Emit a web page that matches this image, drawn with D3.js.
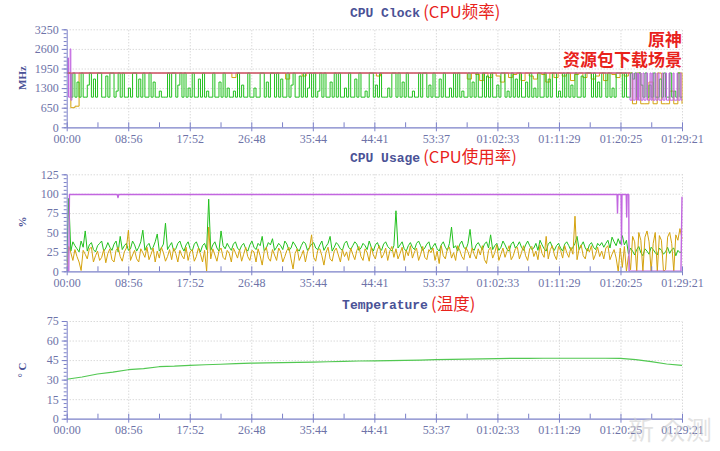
<!DOCTYPE html>
<html><head><meta charset="utf-8">
<script src="https://cdn.jsdelivr.net/npm/d3@7/dist/d3.min.js"></script>
<style>body{margin:0;background:#fff}svg{display:block}</style>
</head><body><svg id="c" width="720" height="451"></svg>
<script>
const DURATION = 5361; // seconds (01:29:21)
const tickLabels = ["00:00","08:56","17:52","26:48","35:44","44:41","53:37","01:02:33","01:11:29","01:20:25","01:29:21"];
const clockTicks = [0,650,1300,1950,2600,3250];
const usageTicks = [0,25,50,75,100,125];
const tempTicks = [0,15,30,45,60,75];

// CPU clock (MHz), green cores, 300 evenly spaced samples
const clockGreen = [
1800,1800,1000,1800,1000,1500,1000,1800,1000,1000,1400,1800,1000,1600,1000,1800,1800,1000,1000,1700,
1000,1800,1800,1000,1200,1800,1000,1800,1000,1000,1300,1000,1800,1800,1000,1600,1000,1800,1000,1000,
1800,1000,1500,1000,1000,1200,1000,1000,1000,1800,1000,1800,1800,1000,1400,1800,1000,1800,1000,1300,
1000,1800,1000,1000,1600,1000,1800,1000,1200,1000,1000,1800,1000,1000,1500,1000,1800,1000,1300,1000,
1000,1200,1000,1800,1000,1400,1000,1000,1800,1000,1000,1300,1000,1000,1800,1800,1000,1500,1000,1800,
1800,1000,1800,1000,1600,1000,1000,1800,1000,1400,1800,1000,1000,1700,1000,1800,1000,1300,1800,1000,
1800,1000,1200,1800,1000,1800,1000,1000,1500,1000,1800,1000,1800,1000,1000,1300,1000,1800,1000,1000,
1600,1000,1800,1000,1000,1200,1000,1800,1800,1000,1400,1000,1800,1000,1000,1000,1300,1000,1800,1800,
1000,1800,1000,1500,1000,1800,1000,1000,1200,1000,1000,1800,1000,1800,1800,1000,1400,1000,1800,1000,
1000,1600,1000,1800,1000,1000,1300,1000,1800,1000,1800,1000,1200,1000,1000,1800,1000,1500,1000,1800,
1000,1000,1800,1000,1700,1000,1800,1000,1000,1400,1000,1800,1800,1000,1200,1000,1800,1000,1600,1000,
1800,1000,1000,1500,1000,1800,1000,1300,1000,1800,1000,1000,1800,1000,1600,1000,1800,1800,1000,1200,
1000,1800,1000,1800,1000,1400,1000,1800,1000,1000,1700,1000,1800,1800,1800,1000,1800,1000,1500,1000,
1800,1800,1000,1800,1000,1300,1000,1800,1800,1800,1000,1800,1000,1000,1800,1600,1800,1000,1800,1400,
1000,1800,1000,1400,1000,1800,1000,1000,1600,1000,1800,1000,1000,1800,1000,1200,1000,1800,1000,1000];

// CPU clock, orange cores, 150 evenly spaced samples
const clockOrange = [
1800,650,700,1800,1800,1800,1800,1800,1800,1800,1800,1800,1800,1800,1800,1800,1800,1800,1800,1800,
1800,1800,1800,1800,1800,1800,1800,1800,1800,1800,1800,1800,1800,1800,1800,1800,1800,1800,1800,1800,
1650,1800,1800,1800,1800,1800,1800,1800,1800,1800,1800,1800,1800,1600,1800,1800,1800,1700,1800,1800,
1800,1800,1800,1800,1800,1800,1800,1800,1800,1800,1800,1800,1800,1800,1800,1700,1800,1800,1800,1800,
1800,1800,1800,1800,1800,1800,1800,1800,1800,1800,1800,1800,1800,1800,1800,1800,1800,1600,1800,1750,
1550,1800,1650,1800,1700,1500,1800,1650,1750,1800,1550,1800,1700,1600,1800,1750,1500,1800,1650,1800,
1700,1800,1550,1750,1800,1650,1800,1600,1700,1800,1550,1800,1750,1650,1800,1700,1800,780,1800,780,
780,1500,780,1800,780,780,1200,780,1800,780];

// CPU clock, purple cores: time (s) / value pairs
const clockPurpleT = [0,10,16,30,36,45,4908,4926,4935,4952,4961,4973,4982,4995,5004,5021,5030,5048,5061,5082,5091,5100,5108,5126,5134,5152,5161,5187,5196,5213,5226,5248,5257,5283,5292,5318,5326,5344,5353,5361];
const clockPurpleV = [1800,2300,1000,2600,900,1800,900,1800,900,1800,900,1800,900,1800,900,1800,900,1800,900,1800,900,1800,900,1800,900,1800,900,1800,900,1800,900,1800,900,1800,900,1800,900,1800,900,900];

// CPU clock, red (max) line
const clockRedT = [0,4910];
const clockRedV = [1800,1800];

// CPU usage (%), green, 300 samples
const usageGreen = [
12,94,26,38,33,29,25,39,31,52,26,34,37,28,25,33,36,39,26,30,
37,31,27,35,39,25,45,28,33,36,27,29,39,34,26,31,38,53,27,33,
36,28,31,38,48,26,30,35,62,28,33,37,26,29,36,39,31,26,34,38,
29,26,35,38,31,25,33,36,28,93,27,34,38,30,26,52,33,29,36,31,
27,35,38,30,27,33,36,29,26,34,39,31,28,36,33,45,26,30,37,34,
42,27,31,36,33,28,39,35,27,30,38,34,29,26,33,38,36,27,31,35,
37,30,28,34,39,27,32,36,45,26,31,37,34,29,27,36,39,31,28,33,
38,35,27,30,36,33,28,39,31,26,34,37,30,27,35,38,32,29,26,33,
78,30,34,38,29,26,33,37,31,28,36,39,33,27,30,35,38,28,32,36,
29,26,34,38,31,27,36,57,30,33,26,35,39,31,28,36,54,30,27,34,
37,32,28,35,38,30,47,28,33,36,27,31,39,34,28,26,35,38,30,33,
38,31,27,34,39,33,28,30,36,27,40,34,29,26,35,38,31,27,33,36,
30,26,35,38,33,27,31,36,45,28,33,38,30,26,34,37,31,28,36,33,
37,31,36,40,30,44,38,33,42,35,46,34,40,22,30,26,21,28,32,24,
20,29,26,22,31,28,24,21,30,27,22,25,31,23,28,30,20,27,24,26];

// CPU usage (%), orange, 300 samples
const usageOrange = [
0,32,24,14,28,19,12,1,27,22,16,29,31,12,20,26,14,18,28,11,
23,29,15,12,27,31,19,13,25,30,53,14,21,27,16,12,29,24,18,31,
15,22,30,12,26,17,31,24,13,19,28,15,30,23,12,27,20,16,31,14,
25,28,13,19,30,22,12,27,0,57,16,29,21,13,26,30,18,15,27,23,
12,30,24,17,28,13,22,31,19,14,27,25,12,29,20,8,26,31,17,13,
28,21,14,30,25,12,19,27,31,16,3,23,29,14,20,27,12,25,30,47,
18,13,27,29,20,8,24,31,16,13,26,30,21,12,28,19,25,14,30,22,
15,27,32,19,14,29,24,13,31,21,16,28,33,17,22,30,14,26,32,18,
29,16,23,31,14,27,20,33,17,25,30,14,22,32,18,15,28,24,30,14,
26,10,33,20,16,29,31,17,24,14,33,27,19,15,31,25,17,30,22,16,
29,21,33,15,10,27,31,17,24,34,14,22,30,18,26,33,15,20,29,31,
16,24,33,20,14,29,32,19,26,15,34,23,18,45,16,28,33,21,15,32,
27,17,33,24,18,31,22,71,15,29,34,20,16,30,25,33,15,22,31,19,
26,16,30,33,15,22,28,17,0,30,5,32,0,20,2,45,38,0,50,40,
0,44,52,38,0,36,50,0,46,40,0,2,44,50,36,0,47,40,55,42];

// CPU usage (%), purple: time (s) / value pairs
const usagePurpleT = [0,18,24,300,440,447,454,900,1500,2100,2700,3300,3900,4500,4795,4799,4803,4830,4834,4838,4875,4879,4883,4897,4900,5346,5352,5361];
const usagePurpleV = [0,0,99,99,99,95,99,99,99,99,99,99,99,99,99,75,99,99,34,99,99,70,99,99,0,0,0,96];

// Temperature (°C), 41 evenly spaced samples
const tempGreen = [30.3,32.0,34.3,35.8,37.6,38.5,39.9,40.3,41.0,41.4,41.8,42.3,42.6,42.8,43.0,43.3,43.5,43.7,44.0,44.3,
44.4,44.6,44.8,45.0,45.3,45.5,45.7,45.9,46.1,46.3,46.3,46.4,46.4,46.4,46.4,46.4,46.3,45.3,43.8,42.0,41.0];

const C = {green:"#22c01e", orange:"#d4a20e", purple:"#c266e0", red:"#d65454", temp:"#52c852",
  axis:"#7b80c8", tick:"#6e73a8", title:"#4a5296", red2:"#e8221b", grid:"#c9c9c9"};

const svg = d3.select("#c");
const X0 = 66.7, X1 = 682;
const x = d3.scaleLinear().domain([0, DURATION]).range([X0, X1]);
const majorT = tickLabels.map((_, i) => i * DURATION / (tickLabels.length - 1));
const minorT = d3.range(0, 2 * (tickLabels.length - 1) + 1).map(i => i * DURATION / (2 * (tickLabels.length - 1)));

function even(arr){ return arr.map((v,i)=>[i*DURATION/(arr.length-1), v]); }
function pairs(T,V){ return T.map((t,i)=>[t,V[i]]); }

function panel(cfg){
  const y = d3.scaleLinear().domain([0, cfg.ticks[cfg.ticks.length-1]]).range([cfg.yBot, cfg.yTop]);
  const g = svg.append("g");
  const step = cfg.ticks[1]-cfg.ticks[0];
  // grid
  const gx = g.append("g").attr("transform",`translate(0,${cfg.yBot})`)
    .call(d3.axisBottom(x).tickValues(majorT.slice(1)).tickSize(-(cfg.yBot-cfg.yTop)).tickFormat(""));
  gx.select(".domain").remove();
  gx.selectAll("line").attr("stroke",C.grid).attr("stroke-dasharray","1,2");
  const gy = g.append("g").attr("transform",`translate(${X0},0)`)
    .call(d3.axisLeft(y).tickValues(cfg.ticks.slice(1)).tickSize(-(X1-X0)).tickFormat(""));
  gy.select(".domain").remove();
  gy.selectAll("line").attr("stroke",C.grid).attr("stroke-dasharray","1,2");

  // series
  const clip = "clip"+cfg.id;
  svg.append("clipPath").attr("id",clip).append("rect").attr("x",X0).attr("y",cfg.yTop-6).attr("width",X1-X0+1).attr("height",cfg.yBot-cfg.yTop+6);
  const sg = g.append("g").attr("clip-path",`url(#${clip})`);
  cfg.series.forEach(s=>{
    const line = d3.line().x(d=>x(d[0])).y(d=>y(d[1])).curve(s.curve||d3.curveLinear);
    sg.append("path").datum(s.data).attr("d",line).attr("fill","none")
      .attr("stroke",s.color).attr("stroke-width",s.w||1).attr("stroke-linejoin","round");
  });

  // y axis: minor ticks
  const minorY = d3.range(0, cfg.ticks.length*5-4).map(i=>i*step/5);
  const ym = g.append("g").attr("transform",`translate(${X0},0)`)
    .call(d3.axisLeft(y).tickValues(minorY).tickSize(3).tickFormat(""));
  ym.select(".domain").remove();
  ym.selectAll("line").attr("stroke",C.axis);
  const ya = g.append("g").attr("transform",`translate(${X0},0)`)
    .call(d3.axisLeft(y).tickValues(cfg.ticks).tickSize(5).tickPadding(3).tickSizeOuter(0).tickFormat(d3.format("d")));
  ya.select(".domain").attr("stroke",C.axis);
  ya.selectAll("line").attr("stroke",C.axis);
  ya.selectAll("text").attr("fill",C.tick).attr("font-family","'Liberation Serif',serif").attr("font-size","12px");

  // x axis
  const xm = g.append("g").attr("transform",`translate(0,${cfg.yBot})`)
    .call(d3.axisBottom(x).tickValues(minorT).tickSize(-5).tickFormat(""));
  xm.select(".domain").remove();
  xm.selectAll("line").attr("stroke",C.axis);
  const xa = g.append("g").attr("transform",`translate(0,${cfg.yBot})`)
    .call(d3.axisBottom(x).tickValues(majorT).tickSize(4).tickPadding(3).tickSizeOuter(0).tickFormat((d,i)=>tickLabels[i]));
  xa.select(".domain").attr("stroke",C.axis).attr("stroke-width",1.3);
  xa.selectAll("line").attr("stroke",C.axis);
  xa.selectAll("text").attr("fill",C.tick).attr("font-family","'Liberation Serif',serif").attr("font-size","12px");

  // y label
  svg.append("text").attr("transform",`translate(26,${cfg.labelY}) rotate(-90)`)
    .attr("text-anchor","middle").attr("fill",C.title).attr("font-family","'Liberation Serif',serif")
    .attr("font-weight","bold").attr("font-size","11px").text(cfg.unit);

  // title
  const t = svg.append("text").attr("x",385).attr("y",cfg.titleY).attr("text-anchor","middle")
    .attr("fill",C.title).attr("font-family","'Liberation Mono',monospace").attr("font-weight","bold")
    .attr("font-size","13px").text(cfg.title);
  const bb = t.node().getBBox();
  svg.append("text").attr("x",bb.x+bb.width+3).attr("y",cfg.titleY+1)
    .attr("fill",C.red2).attr("font-family","'Noto Sans CJK SC','Noto Sans',sans-serif")
    .attr("font-size","16.5px").text(cfg.titleCn);
}

panel({id:1, yTop:29.3, yBot:127.3, ticks:clockTicks, unit:"MHz", labelY:78, titleY:17,
  title:"CPU Clock", titleCn:"(CPU频率)",
  series:[
    {data:even(clockOrange), color:C.orange, curve:d3.curveStepAfter},
    {data:even(clockGreen), color:C.green, curve:d3.curveStepAfter},
    {data:pairs(clockPurpleT,clockPurpleV), color:C.purple, curve:d3.curveStepAfter},
    {data:pairs(clockRedT,clockRedV), color:C.red}
  ]});
panel({id:2, yTop:174.3, yBot:271.3, ticks:usageTicks, unit:"%", labelY:222, titleY:162,
  title:"CPU Usage", titleCn:"(CPU使用率)",
  series:[
    {data:even(usageGreen), color:C.green},
    {data:even(usageOrange), color:C.orange},
    {data:pairs(usagePurpleT,usagePurpleV), color:C.purple, w:1.4}
  ]});
panel({id:3, yTop:321, yBot:418.7, ticks:tempTicks, unit:"° C", labelY:370, titleY:309,
  title:"Temperature", titleCn:"(温度)",
  series:[
    {data:even(tempGreen), color:C.temp, w:1.2}
  ]});

// annotation
const ann = svg.append("g").attr("fill",C.red2).attr("font-family","'Noto Sans CJK SC',sans-serif")
  .attr("font-weight","bold").attr("font-size","17px").attr("text-anchor","end");
ann.append("text").attr("x",682).attr("y",46).text("原神");
ann.append("text").attr("x",682).attr("y",66).text("资源包下载场景");

// watermark
svg.append("text").attr("x",628).attr("y",440).attr("fill","#d0d0d0").attr("opacity",0.6)
  .attr("font-family","'Noto Sans CJK SC',sans-serif").attr("font-size","26px").text("新 众测");
</script></body></html>
